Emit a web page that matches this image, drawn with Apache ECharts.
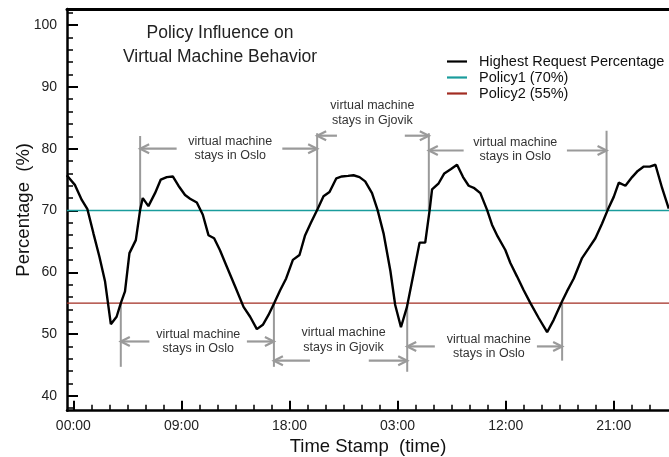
<!DOCTYPE html>
<html>
<head>
<meta charset="utf-8">
<title>Policy Influence on Virtual Machine Behavior</title>
<script src="https://cdn.jsdelivr.net/npm/echarts@6/dist/echarts.min.js"></script>
<style>
  html, body { margin: 0; padding: 0; background: #fff; }
  #chart { width: 669px; height: 457px; }
</style>
</head>
<body>
<div id="chart"></div>
<script>
// Highest request percentage sampled over time (hours since 00:00 of day one)
const hours = [-0.55, 0.14, 0.7, 1.17, 1.67, 2.17, 2.64, 3.12, 3.6, 3.95, 4.3, 4.67, 5.2, 5.56, 5.78,
  6.25, 6.8, 7.28, 7.78, 8.28, 8.75, 9.3, 9.72, 10.28, 10.78, 11.25, 11.72, 12.2, 12.78, 13.47,
  14.17, 14.72, 15.28, 15.78, 16.25, 16.72, 17.22, 17.72, 18.28, 18.83, 19.3, 19.78, 20.33, 20.83,
  21.33, 21.9, 22.36, 22.87, 23.33, 23.83, 24.3, 24.87, 25.33, 25.83, 26.4, 26.8, 27.28, 27.78,
  28.33, 28.83, 29.3, 29.67, 29.87, 30.42, 30.89, 31.45, 31.95, 32.45, 32.92, 33.39, 33.89, 34.45,
  34.86, 35.33, 35.97, 36.39, 36.95, 37.5, 38.06, 38.75, 39.45, 40.0, 40.7, 41.1, 41.67, 42.36,
  42.92, 43.47, 44.03, 44.5, 45.0, 45.42, 45.97, 46.53, 47.0, 47.5, 48.0, 48.47, 49.03, 49.58];
const percent = [75.7, 74.1, 71.7, 70.2, 66.3, 62.5, 58.5, 51.6, 52.8, 55, 56.9, 63.1, 65.2, 70.1, 72,
  70.7, 72.8, 75, 75.4, 75.5, 74, 72.5, 71.9, 71.3, 69.3, 66, 65.5, 63.6, 60.9, 57.7,
  54.4, 52.8, 50.8, 51.5, 53.1, 55, 57.1, 59, 62, 62.8, 66, 68, 70.2, 72.3,
  73, 75.2, 75.5, 75.6, 75.7, 75.4, 74.7, 72.8, 70.1, 66.3, 60.2, 54.7, 51.1, 54.4,
  59.8, 64.8, 64.8, 70.1, 73.4, 74.4, 76, 76.7, 77.4, 75.4, 74, 73.6, 72.8, 70.1,
  67.7, 65.8, 63.6, 61.5, 59.3, 57.1, 55, 52.6, 50.3, 52.3, 55.3, 56.9, 59, 62.3,
  63.9, 65.5, 67.9, 70.1, 72.2, 74.5, 74, 75.4, 76.4, 77.1, 77.1, 77.4, 73.6, 70.3];

// Policy thresholds
const policyNames = ['Policy1 (70%)', 'Policy2 (55%)'];
const policyLevels = [70, 55];

// Axis ranges and ticks
const timeRange = [-0.53, 49.6];
const timeMajorTicks = [0, 9, 18, 27, 36, 45];
const timeMinorTicks = [1.5, 3, 4.5, 6, 7.5, 10.5, 12, 13.5, 15, 16.5, 19.5, 21, 22.5, 24, 25.5,
  28.5, 30, 31.5, 33, 34.5, 37.5, 39, 40.5, 42, 43.5, 46.5, 48];
const pctRange = [37.6, 102.6];
const pctMajorTicks = [40, 50, 60, 70, 80, 90, 100];
const pctMinorTicks = [38, 42, 44, 46, 48, 52, 54, 56, 58, 62, 64, 66, 68, 72, 74, 76, 78,
  82, 84, 86, 88, 92, 94, 96, 98, 102];

// Location annotations: vertical markers where the curve crosses a policy line
const markerX = [5.56, 20.3, 29.6, 44.4, 3.95, 16.7, 27.8, 40.7];
const markerFrom = [70, 70, 70, 70, 55, 55, 55, 55];
const markerTo = [82.05, 82.5, 82.5, 82.9, 44.7, 44.7, 43.9, 45.7];

// Annotation spans with their arrows and notes
const spanStart = [5.56, 20.3, 29.6, 3.95, 16.7, 27.8];
const spanEnd = [20.3, 29.6, 44.4, 16.7, 27.8, 40.7];
const arrowLevel = [80, 82.1, 79.7, 48.8, 45.7, 48];
const leftTail = [8.6, 21.95, 32.5, 6.33, 19.7, 30.1];
const rightTail = [17.4, 27.6, 41.1, 14.45, 24.6, 38.6];
const noteX = [13.06, 24.9, 36.8, 10.4, 22.5, 34.6];
const noteY = [80, 85.8, 79.85, 48.8, 49.0, 48];
const noteText = [
  'virtual machine\nstays in Oslo',
  'virtual machine\nstays in Gjovik',
  'virtual machine\nstays in Oslo',
  'virtual machine\nstays in Oslo',
  'virtual machine\nstays in Gjovik',
  'virtual machine\nstays in Oslo'
];

const FONT = '"Liberation Sans", Arial, Helvetica, sans-serif';
const GREY = '#9a9a9a';

function clockLabel(v) {
  const h = ((Math.round(v) % 24) + 24) % 24;
  return (h < 10 ? '0' : '') + h + ':00';
}

function arrowShape(api, tail, head, level) {
  const t = api.coord([tail, level]);
  const h = api.coord([head, level]);
  const dir = h[0] > t[0] ? 1 : -1;
  const len = 9, half = 4.5;
  return [
    { type: 'line', shape: { x1: t[0], y1: t[1], x2: h[0], y2: h[1] },
      style: { stroke: GREY, lineWidth: 2.2 } },
    { type: 'polyline',
      shape: { points: [[h[0] - dir * len, h[1] - half], [h[0], h[1]], [h[0] - dir * len, h[1] + half]] },
      style: { stroke: GREY, lineWidth: 2.2, fill: null } }
  ];
}

const chart = echarts.init(document.getElementById('chart'), null, { renderer: 'canvas' });

const axisBase = {
  type: 'value',
  min: timeRange[0],
  max: timeRange[1],
  splitLine: { show: false }
};

const option = {
  animation: false,
  backgroundColor: '#ffffff',
  textStyle: { fontFamily: FONT },
  grid: { left: 67, right: 0, top: 9, bottom: 46.3, containLabel: false, outerBoundsMode: 'none' },
  graphic: [{
    type: 'text',
    x: 220,
    y: 45,
    style: {
      text: 'Policy Influence on\nVirtual Machine Behavior',
      align: 'center',
      verticalAlign: 'middle',
      fontSize: 17.5,
      lineHeight: 24,
      fontFamily: FONT,
      fill: '#222'
    }
  }],
  legend: {
    orient: 'vertical',
    left: 442,
    top: 49,
    icon: 'rect',
    itemWidth: 20,
    itemHeight: 2.2,
    itemGap: 1,
    textStyle: { fontSize: 14.5, color: '#111', fontFamily: FONT, padding: [0, 0, 0, 7] },
    data: ['Highest Request Percentage', policyNames[0], policyNames[1]]
  },
  xAxis: [
    Object.assign({}, axisBase, {
      position: 'bottom',
      name: 'Time Stamp  (time)',
      nameLocation: 'middle',
      nameGap: 27,
      nameMoveOverlap: false,
      nameTextStyle: { fontSize: 18.5, color: '#111', fontFamily: FONT },
      axisLine: { show: true, onZero: false, lineStyle: { color: '#000', width: 2.5 } },
      axisTick: { show: true, inside: true, length: 10, customValues: timeMajorTicks,
        lineStyle: { color: '#000', width: 2 } },
      axisLabel: { show: true, customValues: timeMajorTicks, formatter: clockLabel,
        fontSize: 14, color: '#222', margin: 8, fontFamily: FONT }
    }),
    Object.assign({}, axisBase, {
      position: 'bottom',
      axisLine: { show: false, onZero: false },
      axisTick: { show: true, inside: true, length: 6, customValues: timeMinorTicks,
        lineStyle: { color: '#000', width: 1.5 } },
      axisLabel: { show: false }
    }),
    Object.assign({}, axisBase, {
      position: 'top',
      axisLine: { show: true, onZero: false, lineStyle: { color: '#000', width: 3 } },
      axisTick: { show: false },
      axisLabel: { show: false }
    })
  ],
  yAxis: [
    {
      type: 'value',
      min: pctRange[0],
      max: pctRange[1],
      position: 'left',
      name: 'Percentage  (%)',
      nameLocation: 'middle',
      nameGap: 34,
      nameMoveOverlap: false,
      nameTextStyle: { fontSize: 18.5, color: '#111', fontFamily: FONT },
      splitLine: { show: false },
      axisLine: { show: true, onZero: false, lineStyle: { color: '#000', width: 2.5 } },
      axisTick: { show: true, inside: true, length: 11, customValues: pctMajorTicks,
        lineStyle: { color: '#000', width: 2 } },
      axisLabel: { show: true, customValues: pctMajorTicks, fontSize: 14, color: '#222',
        margin: 10, fontFamily: FONT }
    },
    {
      type: 'value',
      min: pctRange[0],
      max: pctRange[1],
      position: 'left',
      splitLine: { show: false },
      axisLine: { show: false, onZero: false },
      axisTick: { show: true, inside: true, length: 6, customValues: pctMinorTicks,
        lineStyle: { color: '#000', width: 1.5 } },
      axisLabel: { show: false }
    }
  ],
  series: [
    {
      name: 'Highest Request Percentage',
      type: 'line',
      xAxisIndex: 0,
      yAxisIndex: 0,
      data: hours.map((h, i) => [h, percent[i]]),
      symbol: 'none',
      z: 4,
      color: '#000',
      lineStyle: { color: '#000', width: 2.4 }
    },
    {
      name: policyNames[0],
      type: 'line',
      data: [[timeRange[0], policyLevels[0]], [timeRange[1], policyLevels[0]]],
      symbol: 'none',
      z: 2,
      color: '#1a9c9c',
      lineStyle: { color: '#1a9c9c', width: 1.6 }
    },
    {
      name: policyNames[1],
      type: 'line',
      data: [[timeRange[0], policyLevels[1]], [timeRange[1], policyLevels[1]]],
      symbol: 'none',
      z: 2,
      color: '#a22c22',
      lineStyle: { color: '#a22c22', width: 1.4 }
    },
    {
      name: 'markers',
      type: 'custom',
      silent: true,
      z: 3,
      data: markerX.map((x, i) => [x, markerFrom[i], markerTo[i]]),
      renderItem: function (params, api) {
        const a = api.coord([api.value(0), api.value(1)]);
        const b = api.coord([api.value(0), api.value(2)]);
        return { type: 'line', shape: { x1: a[0], y1: a[1], x2: b[0], y2: b[1] },
          style: { stroke: GREY, lineWidth: 2 } };
      }
    },
    {
      name: 'notes',
      type: 'custom',
      silent: true,
      z: 3,
      data: spanStart.map((s, i) => [s, spanEnd[i], arrowLevel[i], leftTail[i], rightTail[i], noteX[i], noteY[i]]),
      renderItem: function (params, api) {
        const lvl = api.value(2);
        const p = api.coord([api.value(5), api.value(6)]);
        const children = []
          .concat(arrowShape(api, api.value(3), api.value(0), lvl))
          .concat(arrowShape(api, api.value(4), api.value(1), lvl));
        children.push({
          type: 'text',
          x: p[0],
          y: p[1],
          style: {
            text: noteText[params.dataIndex],
            align: 'center',
            verticalAlign: 'middle',
            fontSize: 12.5,
            lineHeight: 14.5,
            fontFamily: FONT,
            fill: '#333'
          }
        });
        return { type: 'group', children: children };
      }
    }
  ]
};

chart.setOption(option);
</script>
</body>
</html>
